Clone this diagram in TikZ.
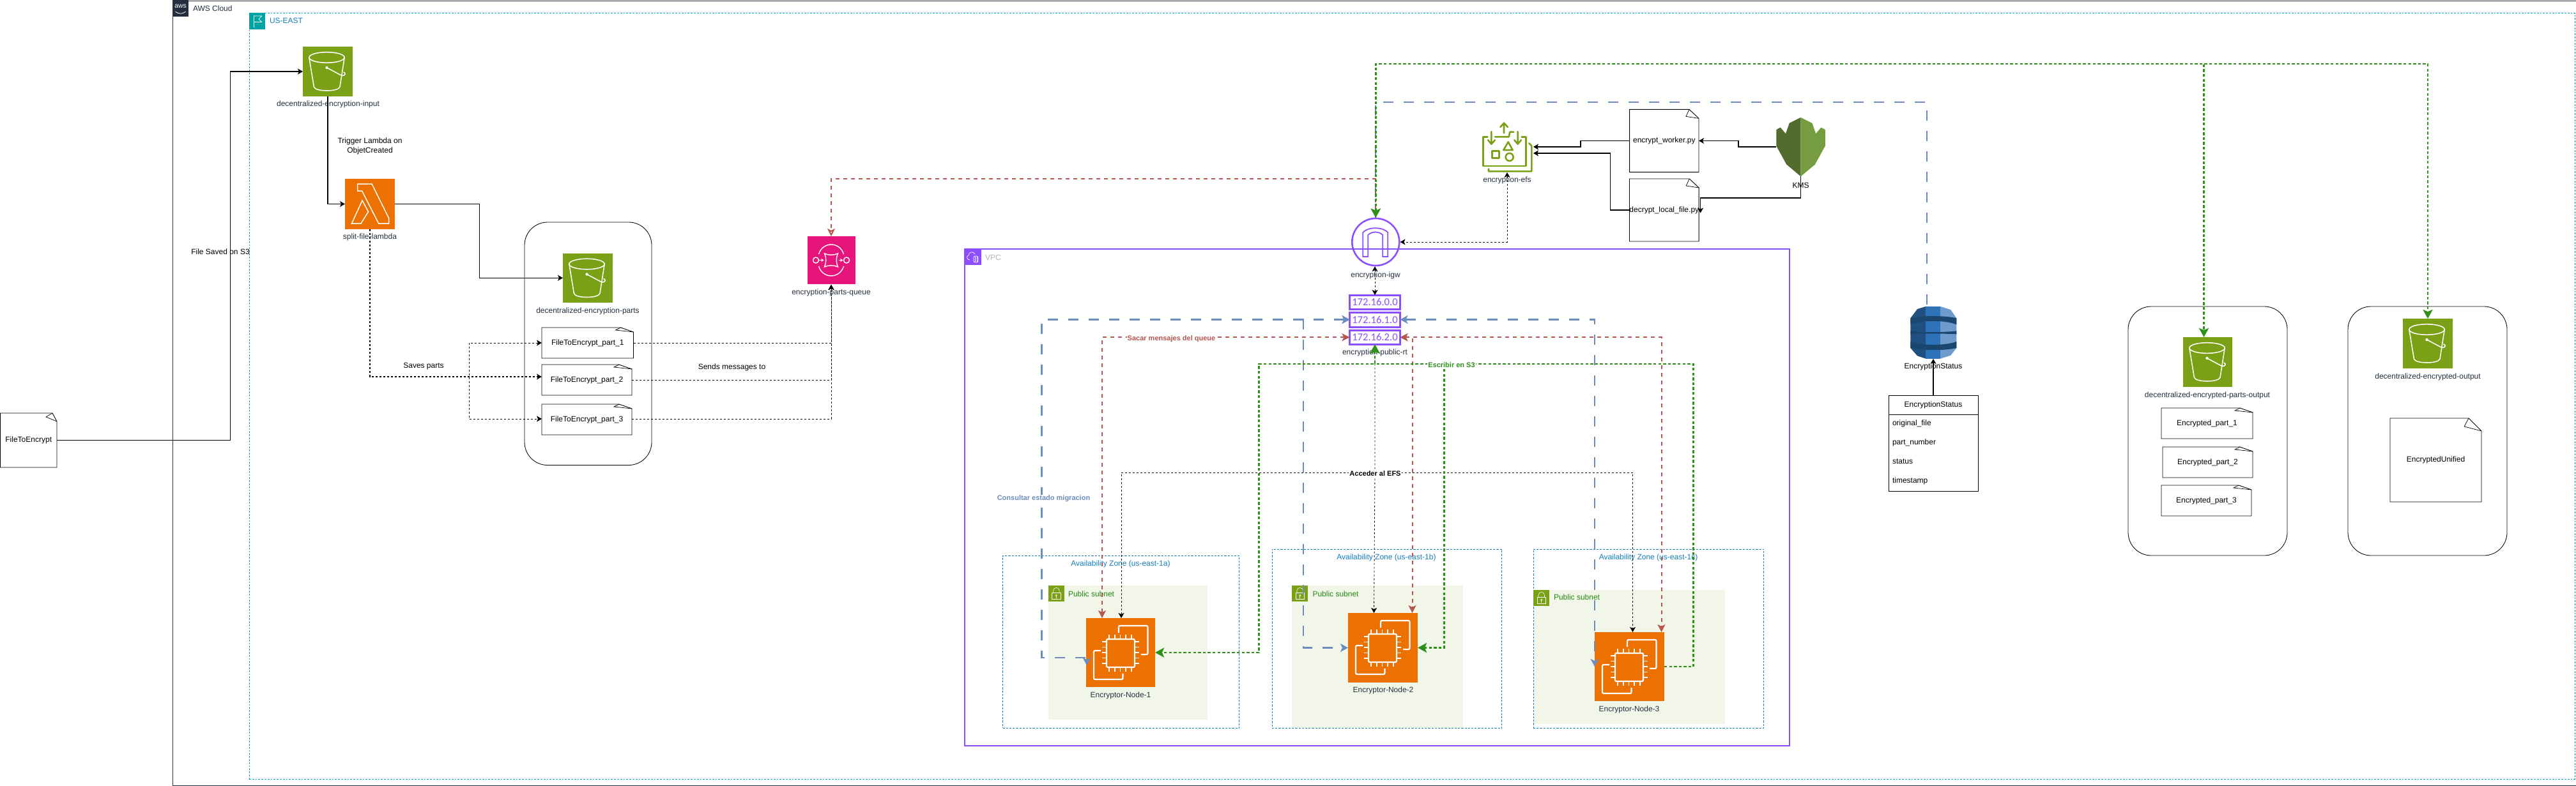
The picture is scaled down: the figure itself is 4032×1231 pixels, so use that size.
\documentclass[tikz,border=0pt]{standalone}
\usepackage{fontspec}
\setmainfont{Liberation Sans}
\newfontfamily\rtfont{Carlito}
\usetikzlibrary{arrows.meta}
\definecolor{awsink}{HTML}{232F3E}
\definecolor{s3green}{HTML}{7AA116}
\definecolor{awsorange}{HTML}{ED7100}
\definecolor{sqspink}{HTML}{E7157B}
\definecolor{vpcpurple}{HTML}{8C4FFF}
\definecolor{azblue}{HTML}{147EBA}
\definecolor{regionteal}{HTML}{00A4A6}
\definecolor{subnetfill}{HTML}{F2F6E8}
\definecolor{subnetink}{HTML}{248814}
\definecolor{vpcgray}{HTML}{AAB7B8}
\definecolor{edgeblue}{HTML}{6C8EBF}
\definecolor{edgered}{HTML}{B85450}
\definecolor{edgegreen}{HTML}{2D9118}
\tikzset{
  lbl/.style={font=\fontsize{6}{7.2}\selectfont,text=awsink,inner sep=0pt,outer sep=0pt,align=center},
  plain/.style={font=\fontsize{6}{7.2}\selectfont,text=black,inner sep=0pt,outer sep=0pt,align=center},
  boldlbl/.style={font=\fontsize{5.5}{6.6}\selectfont\bfseries,fill=white,inner sep=.5pt,outer sep=0pt},
  solidedge/.style={draw=black,line width=.55pt,>={Stealth[length=4pt,width=4.5pt,inset=1pt]}},
  dashedge/.style={draw=black,line width=.42pt,dash pattern=on 1.6pt off 1.4pt,>={Stealth[length=4pt,width=4.5pt,inset=1pt]}},
  blueedge/.style={draw=edgeblue,line width=1.1pt,dash pattern=on 8pt off 8pt,>={Stealth[length=6pt,width=6.5pt,inset=1.5pt]}},
  rededge/.style={draw=edgered,line width=1pt,dash pattern=on 3pt off 3pt,>={Stealth[length=6pt,width=6pt,inset=1.5pt]}},
  greenedge/.style={draw=edgegreen,line width=1.4pt,dash pattern=on 2.2pt off 1.6pt,>={Stealth[length=7pt,width=7.5pt,inset=1.5pt]}},
  container/.style={draw=black,line width=.42pt,rounded corners=18pt},
  docbox/.style={plain},
  rtbox/.style={draw=vpcpurple,line width=1.5pt,fill=white,text=vpcpurple,font=\rtfont\fontsize{8.3}{9}\selectfont},
  azbox/.style={draw=azblue,line width=.45pt,dash pattern=on 1.6pt off 1pt},
  glyph/.style={draw=white,line width=.75pt}
}
% name, x1, y1, x2, y2, style, text (pixel coordinates of the reference)
\newcommand\pxbox[7]{\node[inner sep=0pt,outer sep=0pt,minimum width={(#4-#2)*0.5pt},minimum height={(#5-#3)*0.5pt},#6] (#1) at ({(#2+#4)/2},{(#3+#5)/2}) {#7};}
% name, fold width, fold height, dx, dy
\newcommand\docoutline[5]{\draw[line width=.45pt,line join=miter] (#1.north west) -- ([shift={(-#2,0)}]#1.north east) -- ([shift={(0,#3)}]#1.north east) -- (#1.south east) -- (#1.south west) -- cycle;
  \draw[line width=.35pt] ([shift={(-#2,0)}]#1.north east) -- ([shift={(-#2-#4,#5)}]#1.north east) -- ([shift={(0,#3)}]#1.north east);}
\newcommand\bucketglyph[1]{\begin{scope}[shift={(#1.north west)},glyph]
  \draw (37.5,17) ellipse [x radius=27.7,y radius=8.3];
  \draw (9.8,17) -- (17.4,63) .. controls (19,71) and (56,71) .. (58,63) -- (65.2,17);
  \fill[white] (37.5,33) circle [radius=2.2];
  \draw (37.5,33) -- (60,45) .. controls (68,47) and (67,40) .. (63.5,40);
\end{scope}}
\newcommand\ectwoglyph[1]{\begin{scope}[shift={(#1.north west)},draw=white,line width=1.1pt]
  \draw[rounded corners=1pt] (32,33) rectangle (76,77);
  \foreach \p in {36,44.7,53.4,62.1,70.8} {\draw[line width=.9pt] (\p,26) -- (\p,33) (\p,77) -- (\p,84);}
  \foreach \q in {37,45.5,54,62.5,71} {\draw[line width=.9pt] (25,\q) -- (32,\q) (76,\q) -- (83,\q);}
  \draw[rounded corners=1pt] (51,23) -- (51,12) -- (96.4,12) -- (96.4,57) -- (86,57);
  \draw[rounded corners=1pt] (23,51) -- (12,51) -- (12,96) -- (57.4,96) -- (57.4,87);
\end{scope}}
\newcommand\lockglyph[1]{\begin{scope}[shift={(#1.north west)},draw=white,line width=.3pt]
  \draw (6,11.7) rectangle (19.5,21.7);
  \draw (8,11.7) -- (8,8) .. controls (8,2) and (17.5,2) .. (17.5,8) -- (17.5,11.7);
  \draw (12.7,15.5) circle [radius=1.2];
  \draw (12.7,16.7) -- (12.7,19.5);
\end{scope}}
\begin{document}
\begin{tikzpicture}[x=0.5pt,y=-0.5pt]
\useasboundingbox (0,0) rectangle (4032,1231);
% ---------- groups
\pxbox{aws}{270}{1}{4034}{1230}{draw=awsink,line width=.5pt}{}
\pxbox{awsicon}{270}{0}{295}{25.5}{fill=awsink}{}
\node[font=\fontsize{5.2}{6}\selectfont,text=white,inner sep=0pt] (awsmark) at (282.5,10) {aws};
\draw[white,line width=.4pt] ([shift={(-8,5)}]awsmark.south) .. controls ([shift={(-3,9)}]awsmark.south) and ([shift={(3,9)}]awsmark.south) .. ([shift={(8,5)}]awsmark.south);
\node[lbl,anchor=west] (awslabel) at (302,13) {AWS Cloud};
\pxbox{region}{390}{20.5}{4030}{1220}{draw=regionteal,line width=.45pt,dash pattern=on 1.4pt off 1pt}{}
\pxbox{regionicon}{390}{20}{415}{46}{fill=regionteal}{}
\begin{scope}[shift={(regionicon.north west)},draw=white,line width=.35pt]
  \draw (7,4) -- (7,23);
  \draw (7,5) -- (19.6,5) -- (15,10) -- (19.6,14.5) -- (7,14.5);
\end{scope}
\node[lbl,anchor=west,text=azblue] (regionlabel) at (422,32.5) {US-EAST};
\pxbox{vpc}{1510}{390}{2801}{1168}{draw=vpcpurple,line width=.55pt}{}
\pxbox{vpcicon}{1510}{390}{1536}{415}{fill=vpcpurple}{}
\begin{scope}[shift={(vpcicon.north west)},draw=white,line width=.35pt]
  \draw (8,17) .. controls (3,17) and (2,11) .. (6,10) .. controls (6,4) and (14,3) .. (16,8);
  \draw[rounded corners=1.2pt] (14,11) rectangle (21,21);
  \draw (16,12) -- (16,20) (19,12) -- (19,20);
\end{scope}
\node[lbl,anchor=west,text=vpcgray] (vpclabel) at (1542,403) {VPC};
\pxbox{sub1}{1640.6}{917}{1890}{1127}{fill=subnetfill}{}
\pxbox{sub2}{2022}{917}{2290}{1140}{fill=subnetfill}{}
\pxbox{sub3}{2400}{924}{2700}{1134}{fill=subnetfill}{}
\pxbox{azone1}{1569.5}{870}{1939.7}{1140}{azbox}{}
\pxbox{azone2}{1991}{860}{2350.7}{1140}{azbox}{}
\pxbox{azone3}{2400}{860}{2760.8}{1140}{azbox}{}
\node[lbl,text=azblue] (az1l) at (1754,883) {Availability Zone (us-east-1a)};
\node[lbl,text=azblue] (az2l) at (2170,873) {Availability Zone (us-east-1b)};
\node[lbl,text=azblue] (az3l) at (2580,873) {Availability Zone (us-east-1c)};
\pxbox{lock1}{1640.6}{917}{1665.6}{942}{fill=s3green}{} \lockglyph{lock1}
\pxbox{lock2}{2022}{917}{2047}{942}{fill=s3green}{} \lockglyph{lock2}
\pxbox{lock3}{2400}{924}{2425}{949}{fill=s3green}{} \lockglyph{lock3}
\node[lbl,anchor=west,text=subnetink] (sub1l) at (1672,930) {Public subnet};
\node[lbl,anchor=west,text=subnetink] (sub2l) at (2054.5,930) {Public subnet};
\node[lbl,anchor=west,text=subnetink] (sub3l) at (2432,935.5) {Public subnet};
\pxbox{partsgroup}{821}{348}{1020}{728.5}{container}{}
\pxbox{encpartsgroup}{3331}{480}{3580}{870}{container}{}
\pxbox{encoutgroup}{3675}{480}{3924}{870}{container}{}
% ---------- documents
\pxbox{file}{0.5}{647}{89}{732}{docbox}{FileToEncrypt} \docoutline{file}{7}{13}{10}{6}
\pxbox{part1}{848}{513}{991.5}{561}{docbox}{FileToEncrypt\_part\_1} \docoutline{part1}{20}{7}{8}{4}
\pxbox{part2}{848}{571}{989}{619}{docbox}{FileToEncrypt\_part\_2} \docoutline{part2}{20}{7}{8}{4}
\pxbox{part3}{848}{633}{989}{681}{docbox}{FileToEncrypt\_part\_3} \docoutline{part3}{20}{7}{8}{4}
\pxbox{worker}{2550.6}{171.4}{2659}{269.6}{docbox}{encrypt\_worker.py} \docoutline{worker}{15}{14}{5}{11}
\pxbox{decrypt}{2550.6}{280}{2659}{378}{docbox}{decrypt\_local\_file.py} \docoutline{decrypt}{15}{14}{5}{11}
\pxbox{enc1}{3383}{639}{3526}{687}{docbox}{Encrypted\_part\_1} \docoutline{enc1}{20}{7}{8}{4}
\pxbox{enc2}{3385}{700}{3526}{748}{docbox}{Encrypted\_part\_2} \docoutline{enc2}{20}{7}{8}{4}
\pxbox{enc3}{3383}{760}{3524}{808}{docbox}{Encrypted\_part\_3} \docoutline{enc3}{20}{7}{8}{4}
\pxbox{unified}{3741}{655}{3884}{786}{docbox}{EncryptedUnified} \docoutline{unified}{20}{20}{7}{13}
% ---------- S3 buckets
\pxbox{s3in}{474}{73}{552}{151}{fill=s3green}{} \bucketglyph{s3in}
\node[lbl] (s3inl) at (513.5,163) {decentralized-encryption-input};
\pxbox{s3parts}{881}{396.5}{959}{474}{fill=s3green}{} \bucketglyph{s3parts}
\node[lbl] (s3partsl) at (920,487) {decentralized-encryption-parts};
\pxbox{s3pout}{3417}{528}{3494}{606}{fill=s3green}{} \bucketglyph{s3pout}
\node[lbl] (s3poutl) at (3455,619) {decentralized-encrypted-parts-output};
\pxbox{s3out}{3761}{499}{3839}{577}{fill=s3green}{} \bucketglyph{s3out}
\node[lbl] (s3outl) at (3800,590) {decentralized-encrypted-output};
% ---------- lambda
\pxbox{lam}{540}{280}{618}{359}{fill=awsorange}{}
\begin{scope}[shift={(lam.north west)},draw=white,line width=.75pt,line join=miter]
  \draw (19.6,8) -- (42,8) -- (68.7,62) -- (68.7,70) -- (52.6,70) -- (26.6,19) -- (19.6,19) -- cycle;
  \draw (27,34) -- (36.5,51.6) -- (25,70) -- (10.5,70) -- cycle;
\end{scope}
\node[lbl] (laml) at (579,371) {split-file-lambda};
% ---------- SQS
\pxbox{queue}{1263.5}{370}{1338.5}{445}{fill=sqspink}{}
\begin{scope}[shift={(queue.north west)},draw=white,line width=.7pt]
  \draw (18,28) .. controls (24,8) and (51,8) .. (57,28);
  \draw (18,47) .. controls (24,67) and (51,67) .. (57,47);
  \draw (13.5,37.5) circle [radius=4.5];
  \draw (61.5,37.5) circle [radius=4.5];
  \draw (27,27) .. controls (33,30) and (42,30) .. (48,27) .. controls (45,33) and (45,42) .. (48,48) .. controls (42,45) and (33,45) .. (27,48) .. controls (30,42) and (30,33) .. (27,27) -- cycle;
  \draw[-{Stealth[length=2.2pt,width=2.6pt]}] (18,37.5) -- (26,37.5);
  \draw[-{Stealth[length=2.2pt,width=2.6pt]}] (49,37.5) -- (56,37.5);
\end{scope}
\node[lbl] (queuel) at (1301,458) {encryption-parts-queue};
% ---------- EFS
\pxbox{efs}{2320}{192}{2398}{270}{}{}
\begin{scope}[shift={(2100,80)},scale=0.3333,draw=s3green,line width=1.3pt,line cap=round,line join=round]
  \draw (685,403) -- (665,403) -- (665,540) -- (865,540) -- (865,403) -- (845,403);
  \draw (880,433) -- (892,445) -- (892,565) -- (690,565) -- (690,553);
  \draw (720,403) -- (785,403) -- (790,380) -- (808,380);
  \draw (762,385) -- (762,338) (745,357) -- (762,338) -- (780,357);
  \draw (703,378) -- (703,435) (687,418) -- (703,437) -- (720,418);
  \draw (827,378) -- (827,435) (811,418) -- (827,437) -- (843,418);
  \draw (782,427) -- (760,465) -- (803,465) -- cycle;
  \draw (707,470) rectangle (739,502);
  \draw (788,498) circle [radius=18];
\end{scope}
\node[lbl] (efsl) at (2359,282) {encryption-efs};
% ---------- KMS
\pxbox{kms}{2780}{184}{2857}{276}{}{}
\begin{scope}[shift={(2050,50)},xscale=0.6378,yscale=0.4464]
  \path[fill={rgb,255:red,84;green,107;blue,46}] (1205,300) -- (1177,320) -- (1168,357) -- (1155,335) -- (1145,343) -- (1145,400) -- (1170,465) -- (1205,507) -- cycle;
  \path[fill={rgb,255:red,117;green,156;blue,62}] (1205,300) -- (1233,320) -- (1242,357) -- (1255,335) -- (1265,343) -- (1265,400) -- (1240,465) -- (1205,507) -- cycle;
\end{scope}
\node[plain] (kmsl) at (2818.5,290) {KMS};
% ---------- Internet gateway and route tables
\node[circle,draw=vpcpurple,line width=1.3pt,minimum size=37pt,inner sep=0pt,outer sep=.6pt] (igw) at (2153.3,379) {};
\begin{scope}[shift={(igw.center)},draw=vpcpurple,line width=.9pt]
  \draw (-20,23) -- (-20,-15) .. controls (-12,-24) and (11,-24) .. (19,-15) -- (19,23) -- (11,23) -- (11,-11) .. controls (5,-17) and (-6,-17) .. (-12,-11) -- (-12,23) -- cycle;
\end{scope}
\node[lbl] (igwl) at (2153,431) {encryption-igw};
\pxbox{rtzero}{2112.5}{462}{2191.5}{484.5}{rtbox}{172.16.0.0}
\pxbox{rtone}{2112.5}{489}{2191.5}{512}{rtbox}{172.16.1.0}
\pxbox{rttwo}{2112.5}{517}{2191.5}{539.5}{rtbox}{172.16.2.0}
\node[lbl] (rtl) at (2152,552.7) {encryption-public-rt};
% ---------- EC2
\pxbox{nodeA}{1700}{968}{1808}{1076}{fill=awsorange}{} \ectwoglyph{nodeA}
\node[lbl] (nodeAl) at (1754,1089) {Encryptor-Node-1};
\pxbox{nodeB}{2110}{960}{2219}{1069}{fill=awsorange}{} \ectwoglyph{nodeB}
\node[lbl] (nodeBl) at (2165,1081) {Encryptor-Node-2};
\pxbox{nodeC}{2496}{990}{2605}{1098}{fill=awsorange}{} \ectwoglyph{nodeC}
\node[lbl] (nodeCl) at (2550,1111) {Encryptor-Node-3};
% ---------- DynamoDB
\pxbox{dyn}{2990}{480}{3062}{562}{}{}
\begin{scope}[shift={(2900,430)},xscale=0.722,yscale=0.3333]
  \path[fill={rgb,255:red,32;green,80;blue,129}] (158,150) -- (140,162) -- (125,205) -- (125,345) -- (140,382) -- (158,395) -- cycle;
  \path[fill={rgb,255:red,46;green,115;blue,184}] (158,150) rectangle (190,395);
  \path[fill={rgb,255:red,108;green,155;blue,204}] (190,150) -- (212,165) -- (225,205) -- (225,345) -- (212,380) -- (190,395) -- cycle;
  \path[fill={rgb,255:red,26;green,71;blue,111}] (125,205) .. controls (150,192) and (200,192) .. (225,205) -- (225,235) .. controls (200,213) and (150,213) .. (125,235) -- cycle;
  \path[fill={rgb,255:red,26;green,71;blue,111}] (125,265) .. controls (150,272) and (200,272) .. (225,265) -- (225,280) .. controls (200,277) and (150,277) .. (125,280) -- cycle;
  \path[fill={rgb,255:red,26;green,71;blue,111}] (125,315) .. controls (150,335) and (200,335) .. (225,315) -- (225,345) .. controls (200,358) and (150,358) .. (125,345) -- cycle;
\end{scope}
\node[plain,text=black] (dynl) at (3026,574) {EncryptionStatus};
\pxbox{tbl}{2956}{619}{3096}{769}{draw=black,line width=.45pt}{}
\node[plain] (tblh) at (3026,634) {EncryptionStatus};
\coordinate (tblrule) at (2956,649);
\draw[line width=.45pt] (tblrule) -- (tblrule -| tbl.east);
\node[plain,anchor=west] (rowa) at (2962,663) {original\_file};
\node[plain,anchor=west] (rowb) at (2962,693) {part\_number};
\node[plain,anchor=west] (rowc) at (2962,723) {status};
\node[plain,anchor=west] (rowd) at (2962,753) {timestamp};
% ---------- solid connectors
\coordinate (fileelbow) at (360.5,400);
\draw[solidedge,->] (file.east) -| (fileelbow) |- (s3in.west);
\draw[solidedge,->] (s3in.south) |- (lam.west);
\coordinate (lamelbow) at (750.5,380);
\draw[solidedge,->] (lam.east) -| (lamelbow) |- (s3parts.west);
\draw[solidedge,->] (tbl.north) -- (dyn.south);
\coordinate (kwelbow) at (2721,225);
\draw[solidedge,->] (kms.west) -| (kwelbow) |- (worker.east);
\coordinate (kdtip) at (2661.6,333.5);
\coordinate (kdelbow) at (2661.6,310);
\draw[solidedge,->] (kms.south) |- (kdelbow) -- (kdtip);
\coordinate (efsin) at (2400,230);
\coordinate (efsinb) at (2400,240);
\coordinate (weelbow) at (2474,225);
\draw[solidedge,->] (worker.west) -| (weelbow) |- (efsin);
\coordinate (deelbow) at (2520.7,290);
\draw[solidedge,->] (decrypt.west) -| (deelbow) |- (efsinb);
% ---------- black dashed connectors
\coordinate (savesrow) at (734,590);
\draw[dashedge,->,line width=.55pt] (lam.south) |- (part2.west |- savesrow);
\draw[dashedge,<->] (part1.west) -| (savesrow) |- (part3.west |- 0,656);
\coordinate (sendtip) at (1301,446);
\draw[dashedge,->] (part1.east) -| (sendtip);
\draw[dashedge,->] (part2.east) -| (sendtip);
\draw[dashedge,->] (part3.east |- 0,656) -| (sendtip);
\draw[dashedge,<->] (efs.south) |- (igw.east);
\draw[dashedge,<->] (igw.south -| rtzero.north) -- (rtzero.north);
\coordinate (tipA) at (1755,968);
\coordinate (tipB) at (2150.5,960);
\coordinate (tipC) at (2555.5,990);
\coordinate (efsrow) at (2152,740);
\draw[dashedge,<->] (tipA) |- (efsrow) -| (tipC);
\draw[dashedge,->] (rttwo.south) -- (efsrow) -- (tipB);
% ---------- blue connectors
\coordinate (ddbrow) at (3016,160);
\draw[blueedge] (igw.north) |- (ddbrow) -- (dyn.north -| ddbrow);
\coordinate (blueA) at (1630.5,1030);
\coordinate (blueAend) at (1701,1030);
\coordinate (blueAtip) at (1701,1042);
\draw[blueedge,<->] (rtone.west) -| (blueA) -- (blueAend) -- (blueAtip);
\coordinate (blueB) at (2040,900);
\draw[blueedge,<->] (rtone.west) -| (blueB) |- (nodeB.west);
\coordinate (blueCtip) at (2496,1044);
\draw[blueedge,<->] (rtone.east) -| (blueCtip);
% ---------- red connectors
\coordinate (sqsrow) at (1800,280);
\draw[rededge,-{Stealth[open,length=6pt,width=6pt,inset=1.5pt]}] (igw.north) |- (sqsrow) -| (queue.north);
\coordinate (redA) at (1725,968);
\coordinate (redB) at (2210.5,960);
\coordinate (redC) at (2600.5,990);
\draw[rededge,<->] (rttwo.west) -| (redA);
\draw[rededge,<->] (rttwo.east) -| (redB);
\draw[rededge,<->] (rttwo.east) -| (redC);
% ---------- green connectors
\coordinate (toprow) at (2800,100);
\coordinate (partsouttip) at (3449.5,528);
\draw[greenedge,<->] (igw.north) |- (toprow) -| (partsouttip);
\draw[greenedge,<->] (igw.north) |- (toprow) -| (s3out.north);
\coordinate (s3row) at (2400,570);
\coordinate (greenA) at (1970.5,800);
\coordinate (greenB) at (2260.5,800);
\coordinate (greenC) at (2650.5,800);
\draw[greenedge,<->] (rttwo.south) |- (s3row -| greenA) |- (nodeA.east);
\draw[greenedge,<->] (rttwo.south) |- (s3row -| greenB) |- (nodeB.east);
\draw[greenedge,->] (nodeC.east) -| (greenC) |- (s3row) -| (rttwo.south);
% ---------- edge labels
\node[plain] (filesaved) at (345,394) {File Saved on S3};
\node[plain] (trigger) at (579,229) {Trigger Lambda on\\ObjetCreated};
\node[plain] (saves) at (663,574) {Saves parts};
\node[plain] (sends) at (1145.5,575) {Sends messages to};
\node[boldlbl,text=edgered] (sacar) at (1833.5,531) {Sacar mensajes del queue};
\node[boldlbl,text=edgegreen] (escribir) at (2272,572) {Escribir en S3};
\node[boldlbl,text=black] (acceder) at (2152.5,742) {Acceder al EFS};
\node[boldlbl,text=edgeblue] (consultar) at (1633.5,781) {Consultar estado migracion};
\end{tikzpicture}
\end{document}
